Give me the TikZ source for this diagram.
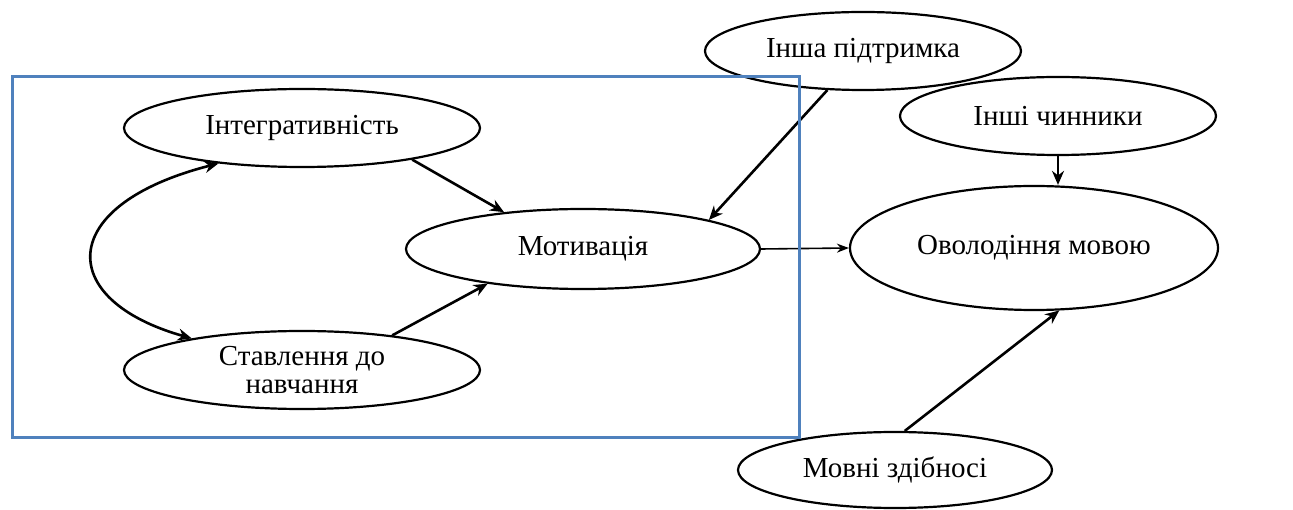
\documentclass[tikz,border=0pt]{standalone}
\usepackage{fontspec}
\setmainfont{Liberation Serif}
\usepackage{tikz}
\usetikzlibrary{shapes,arrows.meta}

\definecolor{boxblue}{RGB}{79,129,189}

\begin{document}
\begin{tikzpicture}[x=1pt,y=-1pt,
		factor/.style={draw,thick,ellipse,line width=2.2pt,inner sep=0pt,align=center,font=\fontsize{29}{28}\selectfont},
		link/.style={line width=2.6pt,-{Stealth[length=14pt,width=12pt]}}]
		\useasboundingbox (0,0) rectangle (1293,510);
		\node[factor,minimum width=356pt,minimum height=78pt] (intg) at (302,128) {Інтегративність};
		\node[factor,minimum width=356pt,minimum height=78pt] (stav) at (302,370) {Ставлення до\\навчання};
		\node[factor,minimum width=354pt,minimum height=80pt] (mot) at (583,249) {Мотивація};
		\node[factor,minimum width=316pt,minimum height=78pt] (sup) at (863,51) {Інша підтримка};
		\node[factor,minimum width=316pt,minimum height=78pt] (chn) at (1058,116) {Інші чинники};
		\node[factor,minimum width=368pt,minimum height=124pt] (ovl) at (1034,248) {Оволодіння мовою};
		\node[factor,minimum width=314pt,minimum height=76pt] (abl) at (895,470) {Мовні здібносі};
		\draw[link] (intg.-16) -- (mot.155);
		\draw[link] (stav.21) -- (mot.200);
		\draw[link] (sup) -- (mot.13);
		\draw[line width=1.6pt,-{Stealth[length=12pt,width=9pt]}] (mot.east) -- (ovl.west);
		\draw[link] (chn.south) -- (chn.south |- ovl.north);
		\draw[link] (abl.76) -- (ovl.-68);
		\draw[link,{Stealth[length=14pt,width=12pt]}-{Stealth[length=14pt,width=12pt]}] (stav.164) .. controls (55,300) and (55,205) .. (intg.203);
		\draw[boxblue,line width=3pt] (12,77) rectangle (799,437);
		\end{tikzpicture}
\end{document}
